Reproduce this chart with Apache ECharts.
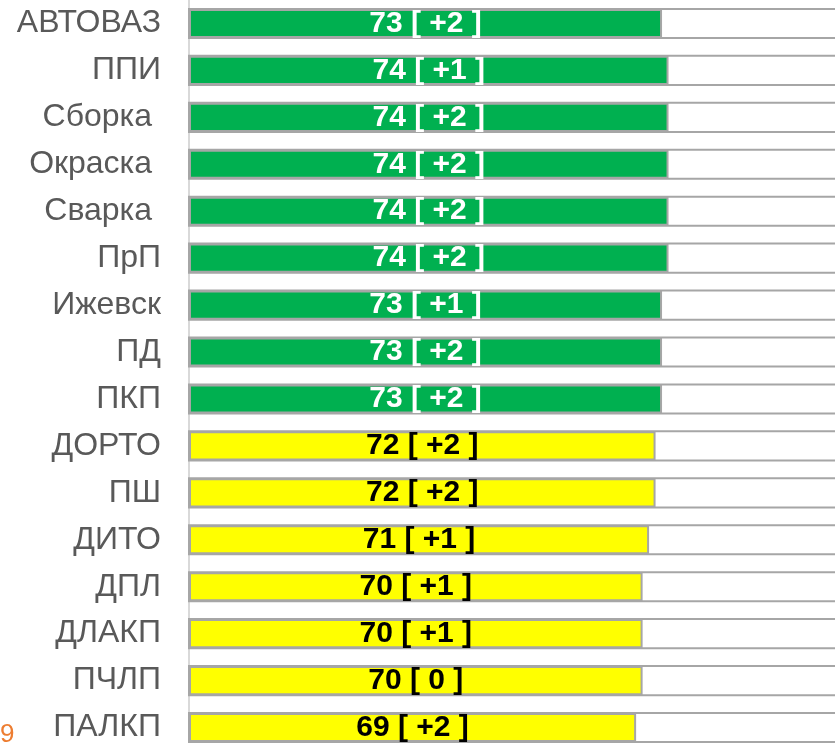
<!DOCTYPE html>
<html><head><meta charset="utf-8">
<script src="https://cdn.jsdelivr.net/npm/echarts@6/dist/echarts.min.js"></script>
<style>html,body{margin:0;padding:0;background:#fff}#c{width:835px;height:743px}</style>
</head><body><div id="c"></div>
<script>
const categories = ['АВТОВАЗ','ППИ','Сборка ','Окраска ','Сварка ','ПрП','Ижевск','ПД','ПКП','ДОРТО','ПШ','ДИТО','ДПЛ','ДЛАКП','ПЧЛП','ПАЛКП'];
const values = [73,74,74,74,74,74,73,73,73,72,72,71,70,70,70,69];
const deltas = ['+2','+1','+2','+2','+2','+2','+1','+2','+2','+2','+2','+1','+1','+1','0','+2'];
const greenCount = 9;

const chart = echarts.init(document.getElementById('c'));
const data = values.map((v,i)=>({
  value: v,
  itemStyle: { color: i < greenCount ? '#00B050' : '#FFFF00' },
  label: { color: i < greenCount ? '#FFFFFF' : '#000000' }
}));
chart.setOption({
  animation: false,
  grid: { left: 189, width: 648, top: 0, height: 751, containLabel: false, outerBoundsMode: 'none' },
  xAxis: { type: 'value', min: 0, max: 100, show: false },
  yAxis: {
    type: 'category', data: categories, inverse: true,
    axisLine: { show: true, lineStyle: { color: '#D9D9D9', width: 2 } },
    axisTick: { show: false },
    axisLabel: { fontFamily: 'Liberation Sans', fontSize: 32, color: '#595959', margin: 28 }
  },
  series: [{
    type: 'bar', data: data, barCategoryGap: '38%',
    itemStyle: { borderColor: '#A6A6A6', borderWidth: 2 },
    showBackground: true,
    backgroundStyle: { color: '#FFFFFF', borderColor: '#A6A6A6', borderWidth: 2 },
    label: {
      show: true, position: 'inside', fontFamily: 'Liberation Sans', fontWeight: 'bold', fontSize: 30,
      formatter: p => p.value + ' [ ' + deltas[p.dataIndex] + ' ]'
    }
  }],
  graphic: [{ type: 'text', left: 0, top: 722, style: { text: '9', fill: '#ED7D31', font: '26px Liberation Sans' } }]
});
</script></body></html>
